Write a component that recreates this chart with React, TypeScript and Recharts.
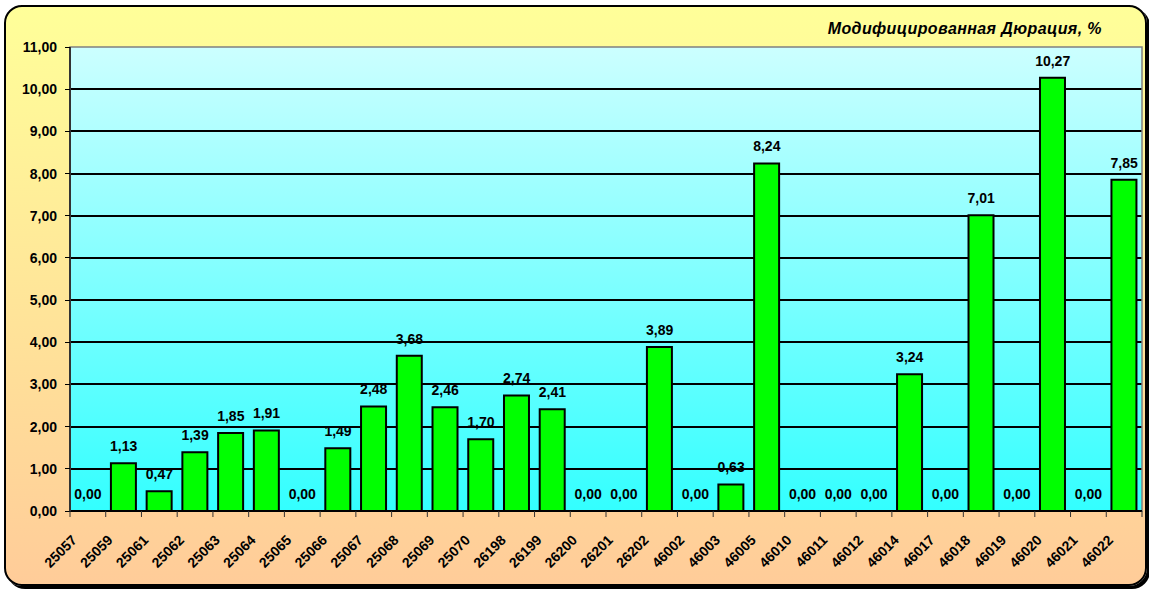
import React from 'react';
import { ComposedChart, Bar, Line, XAxis, YAxis, CartesianGrid, LabelList, ReferenceArea } from 'recharts';

const categories = [
  '25057', '25059', '25061', '25062', '25063', '25064', '25065', '25066', '25067', '25068',
  '25069', '25070', '26198', '26199', '26200', '26201', '26202', '46002', '46003', '46005',
  '46010', '46011', '46012', '46014', '46017', '46018', '46019', '46020', '46021', '46022',
];
const durations = [
  0.0, 1.13, 0.47, 1.39, 1.85, 1.91, 0.0, 1.49, 2.48, 3.68,
  2.46, 1.7, 2.74, 2.41, 0.0, 0.0, 3.89, 0.0, 0.63, 8.24,
  0.0, 0.0, 0.0, 3.24, 0.0, 7.01, 0.0, 10.27, 0.0, 7.85,
];
const yTicks = [0, 1, 2, 3, 4, 5, 6, 7, 8, 9, 10, 11];
const gridValues = [0, 1, 2, 3, 4, 5, 6, 7, 8, 9, 10];
const title = 'Модифицированная Дюрация, %';

const data = categories.map((code, i) => ({ code, value: durations[i] }));

const W = 1149;
const H = 590;
const MARGIN = { top: 47, right: 7, bottom: 0, left: 0 };
const Y_W = 70;
const X_H = 79;
const PLOT_W = W - MARGIN.left - MARGIN.right - Y_W;
const STEP = PLOT_W / categories.length;
const AXIS_Y = H - MARGIN.bottom - X_H;
const FONT = 'Arial, "Liberation Sans", sans-serif';

const fmt = (v: number) => v.toFixed(2).replace('.', ',');

function XTick(props: any) {
  const { x, payload, index } = props;
  const y = AXIS_Y;
  const tx = x - 10;
  const ty = y + 30;
  return (
    <g>
      <line x1={x - STEP / 2} y1={y} x2={x - STEP / 2} y2={y + 6} stroke="#333" strokeWidth={1} />
      {index === categories.length - 1 && (
        <line x1={x + STEP / 2} y1={y} x2={x + STEP / 2} y2={y + 6} stroke="#333" strokeWidth={1} />
      )}
      <text
        x={tx}
        y={ty}
        transform={`rotate(-45 ${tx} ${ty})`}
        textAnchor="end"
        fontFamily={FONT}
        fontWeight="bold"
        fontSize={14}
        style={{ fontSize: 14 }}
        fill="#000"
      >
        {payload.value}
      </text>
    </g>
  );
}

export default function App() {
  return (
    <div style={{ position: 'relative', width: W, height: H, overflow: 'hidden' }}>
      <style>{`body{margin:0;overflow:hidden} .recharts-cartesian-grid line, .recharts-cartesian-axis-line, .recharts-cartesian-axis-tick-line{shape-rendering:crispEdges}`}</style>
      <div
        style={{
          position: 'absolute',
          left: 4,
          top: 5,
          width: 1143,
          height: 581,
          boxSizing: 'border-box',
          border: '2px solid #000',
          borderRadius: 18,
          background: 'linear-gradient(to bottom, #FFFF99 0%, #FFCC99 100%)',
          boxShadow: '3px 3px 0 #000',
        }}
      />
      <svg width={W} height={H} style={{ position: 'absolute', left: 0, top: 0 }}>
        <defs>
          <linearGradient id="plotBg" x1="0" y1="0" x2="0" y2="1">
            <stop offset="0%" stopColor="#CCFFFF" />
            <stop offset="100%" stopColor="#33FFFF" />
          </linearGradient>
        </defs>
        <text
          x={1102}
          y={34}
          textAnchor="end"
          fontFamily={FONT}
          fontWeight="bold"
          fontStyle="italic"
          fontSize={16}
          letterSpacing={0.4}
          fill="#000"
        >
          {title}
        </text>
      </svg>
      <div style={{ position: 'absolute', left: 0, top: 0 }}>
        <ComposedChart width={W} height={H} data={data} margin={MARGIN} barCategoryGap="14.5%">
          <CartesianGrid
            vertical={false}
            stroke="#000"
            strokeWidth={2}
            fill="url(#plotBg)"
            fillOpacity={1}
            horizontalValues={gridValues}
          />
          <ReferenceArea y1={0} y2={11} fill="none" stroke="#808080" strokeWidth={1.5} ifOverflow="visible" />
          <XAxis
            dataKey="code"
            interval={0}
            height={X_H}
            tickSize={0}
            tickMargin={0}
            tickLine={false}
            axisLine={{ stroke: '#000', strokeWidth: 2 }}
            tick={<XTick />}
          />
          <YAxis
            width={Y_W}
            domain={[0, 11]}
            ticks={yTicks}
            interval={0}
            tickFormatter={fmt}
            tickSize={5}
            tickMargin={8}
            axisLine={{ stroke: '#333', strokeWidth: 2 }}
            tickLine={{ stroke: '#000' }}
            tick={{ fill: '#000', fontFamily: FONT, fontWeight: 'bold', fontSize: 14 }}
          />
          <Bar dataKey="value" fill="#00FF00" stroke="#000" strokeWidth={2} isAnimationActive={false} />
          <Line
            dataKey="value"
            stroke="none"
            dot={false}
            activeDot={false}
            legendType="none"
            isAnimationActive={false}
          >
            <LabelList
              dataKey="value"
              position="top"
              offset={12}
              formatter={(v: any) => fmt(Number(v))}
              fill="#000"
              fontFamily={FONT}
              fontWeight="bold"
              fontSize={14}
            />
          </Line>
        </ComposedChart>
      </div>
    </div>
  );
}
